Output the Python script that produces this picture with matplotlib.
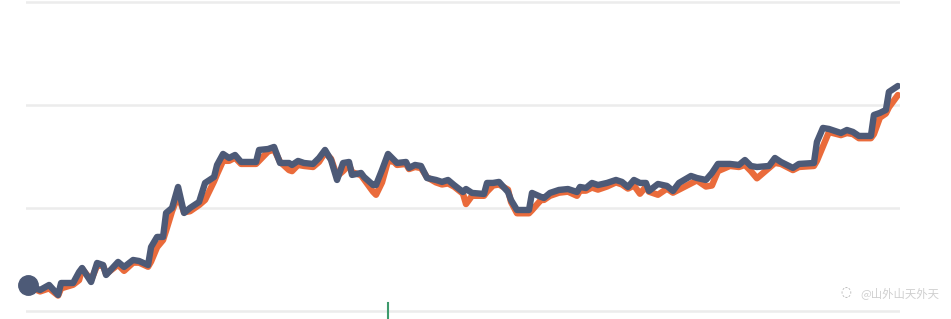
import matplotlib.pyplot as plt

# trading day index and the two series
days = [0, 4, 7, 10, 11, 15, 17, 18, 21, 23, 25, 26, 30, 32, 35, 37, 40, 41, 43, 45,
        46, 48, 50, 52, 54, 57, 59, 62, 63, 65, 67, 69, 71, 76, 77, 80, 82, 84, 87, 88,
        90, 92, 95, 97, 99, 101, 103, 105, 107, 108, 111, 112, 115, 116, 118, 120, 122, 123, 126, 127,
        129, 131, 133, 136, 138, 140, 142, 145, 146, 148, 152, 153, 155, 157, 160, 161, 163, 167, 168, 171,
        172, 174, 177, 180, 183, 184, 186, 188, 190, 193, 196, 198, 200, 202, 204, 206, 207, 210, 213, 215,
        217, 221, 223, 226, 228, 230, 234, 237, 239, 241, 243, 247, 249, 251, 255, 257, 262, 263, 265, 267,
        271, 273, 275, 277, 281, 282, 284, 286, 287, 290]

fund = [25.3, 20.4, 25.3, 15.6, 27.2, 27.2, 37.9, 41.8, 28.2, 46.7, 44.7, 35.0, 47.7, 42.8, 49.6, 48.6, 44.7, 62.2, 72.0, 72.0,
        95.3, 100.2, 120.6, 95.3, 100.2, 106.0, 124.5, 130.3, 142.0, 152.7, 148.8, 151.7, 144.9, 144.9, 156.6, 157.5, 159.5, 143.9, 143.9, 142.0,
        145.9, 143.9, 143.0, 148.8, 156.6, 146.8, 127.4, 143.9, 144.9, 132.3, 134.2, 130.3, 122.5, 122.5, 137.1, 152.7, 146.8, 143.9, 144.9, 139.1,
        142.0, 141.0, 129.3, 127.4, 125.5, 127.4, 122.5, 115.7, 118.6, 114.8, 113.8, 124.5, 124.5, 125.5, 115.7, 107.9, 98.2, 98.2, 114.8, 110.9,
        109.9, 114.8, 117.7, 118.6, 115.7, 120.6, 119.6, 124.5, 122.5, 124.5, 127.4, 125.5, 120.6, 127.4, 124.5, 124.5, 116.7, 123.5, 121.6, 116.7,
        124.5, 131.3, 129.3, 127.4, 134.2, 143.0, 143.0, 142.0, 146.8, 141.0, 140.0, 141.0, 148.8, 144.9, 139.1, 143.0, 143.9, 164.4, 178.0, 177.0,
        173.1, 176.0, 174.1, 170.2, 170.2, 190.6, 192.6, 195.5, 213.0, 218.8]

bench = [24, 19, 22, 15, 22, 25.5, 30, 41, 30, 44, 44, 36, 45, 39, 47, 47, 43, 48, 62, 69,
         78, 97, 112, 96, 97, 103, 108, 126, 133, 146, 146, 149, 143, 143, 146, 155, 157, 145, 137, 136,
         142, 141, 140, 145, 154, 148, 131, 136, 142, 135, 132, 128, 116, 113, 125, 146, 145, 142, 143, 138,
         140, 139, 130, 125, 123, 124, 121, 114, 104, 112, 112, 116, 122, 123, 118, 106, 95, 95, 98, 108,
         108, 112, 115, 116, 112, 117, 117, 120, 118, 121, 125, 123, 119, 122, 114, 121, 116, 113, 119, 115,
         118, 124, 127, 121, 122, 136, 141, 140, 142, 136, 129, 139, 144, 143, 137, 140, 141, 146, 160, 174,
         171, 173, 172, 168, 168, 172, 188, 192, 198, 210]

grid_levels = [0, 100, 200, 300]
marked_day = 120

fig = plt.figure(figsize=(9.51, 3.19), dpi=100)
ax = fig.add_axes([26 / 951, 0, 874 / 951, 1])

for g in grid_levels:
    ax.axhline(g, color='#ececec', linewidth=1.8, zorder=0)

ax.plot(days, bench, color='#ea6b3b', linewidth=4.6,
        solid_joinstyle='round', solid_capstyle='round', zorder=2)
ax.plot(days, fund, color='#4d5a77', linewidth=4.6,
        solid_joinstyle='round', solid_capstyle='round', zorder=3)
ax.plot(days[:1], fund[:1], 'o', color='#4d5a77', markersize=14, zorder=4, clip_on=False)

ax.axvline(marked_day, ymin=0.0, ymax=0.05, color='#3d9a6c', linewidth=1.5, zorder=1)

ax.set_xlim(-0.7, 290.7)
ax.set_ylim(-7.8, 302.4)
ax.axis('off')

fig.text(0.889, 0.082, '◌', color='#aaaaaa', fontsize=9, ha='center', va='center')
fig.text(0.905, 0.082, '@山外山天外天', color='#cfcfcf', fontsize=8.2, ha='left', va='center',
         family=['Noto Sans CJK SC', 'DejaVu Sans'])

fig.savefig('out.png', dpi=100)
